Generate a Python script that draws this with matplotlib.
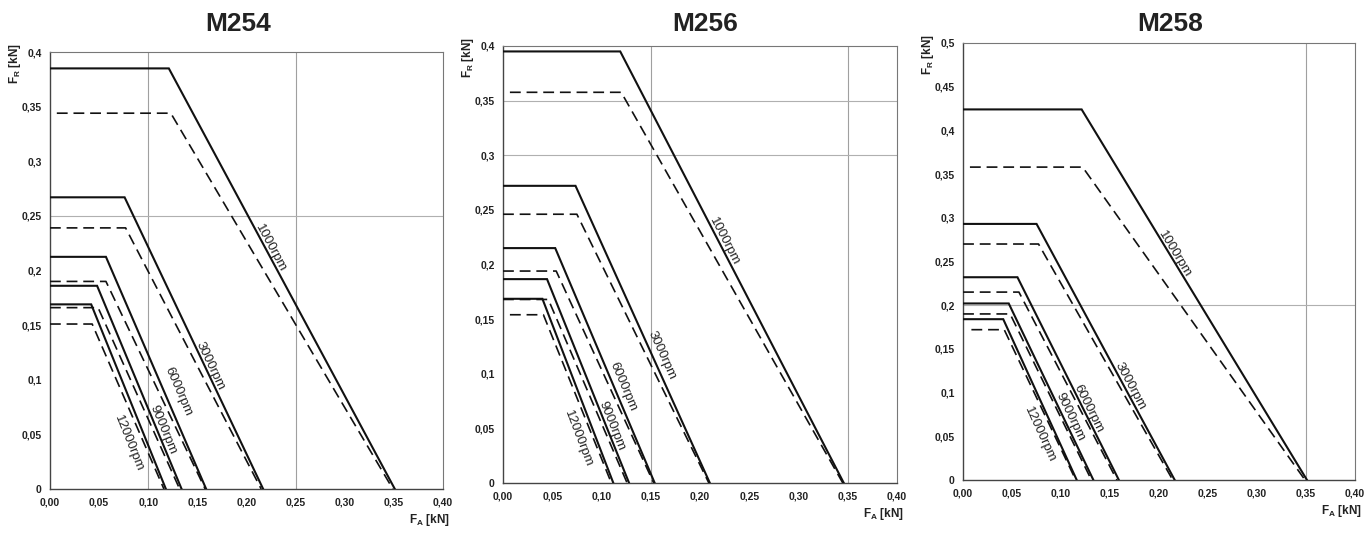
import numpy as np
import matplotlib
matplotlib.use("Agg")
import matplotlib.pyplot as plt

plt.rcParams['font.family'] = ['Liberation Sans', 'DejaVu Sans']

# ─────────────────────────────────────────
#  Data (kN)
#  curve = (0, FR) -> (knee, FR) -> (end, 0)
# ─────────────────────────────────────────
speeds = ['1000rpm', '3000rpm', '6000rpm', '9000rpm', '12000rpm']

# M254
m254_solid_fr    = [0.385, 0.267, 0.2125, 0.186, 0.169]
m254_solid_knee  = [0.121, 0.076, 0.057, 0.048, 0.042]
m254_solid_end   = [0.351, 0.217, 0.159, 0.134, 0.118]
m254_dash_start  = [0.007, 0.0, 0.0, 0.0, 0.0]
m254_dash_fr     = [0.344, 0.239, 0.190, 0.166, 0.151]
m254_dash_knee   = [0.123, 0.077, 0.057, 0.049, 0.043]
m254_dash_end    = [0.349, 0.215, 0.158, 0.132, 0.116]
m254_label_x     = [0.225, 0.163, 0.1305, 0.115, 0.080]
m254_label_y     = [0.220, 0.113, 0.089, 0.054, 0.042]

# M256
m256_solid_fr    = [0.395, 0.272, 0.215, 0.1866, 0.1686]
m256_solid_knee  = [0.119, 0.0736, 0.053, 0.0447, 0.040]
m256_solid_end   = [0.346, 0.210, 0.154, 0.128, 0.112]
m256_dash_start  = [0.007, 0.0, 0.0, 0.0, 0.007]
m256_dash_fr     = [0.3576, 0.246, 0.194, 0.168, 0.154]
m256_dash_knee   = [0.120, 0.075, 0.054, 0.046, 0.041]
m256_dash_end    = [0.345, 0.209, 0.153, 0.126, 0.110]
m256_label_x     = [0.225, 0.161, 0.122, 0.110, 0.076]
m256_label_y     = [0.221, 0.117, 0.088, 0.052, 0.041]

# M258
m258_solid_fr    = [0.424, 0.293, 0.232, 0.202, 0.184]
m258_solid_knee  = [0.121, 0.075, 0.0555, 0.0466, 0.041]
m258_solid_end   = [0.351, 0.216, 0.159, 0.133, 0.116]
m258_dash_start  = [0.007, 0.0, 0.0, 0.0, 0.0085]
m258_dash_fr     = [0.358, 0.270, 0.215, 0.190, 0.172]
m258_dash_knee   = [0.122, 0.077, 0.057, 0.048, 0.042]
m258_dash_end    = [0.349, 0.214, 0.157, 0.131, 0.115]
m258_label_x     = [0.216, 0.170, 0.128, 0.109, 0.078]
m258_label_y     = [0.258, 0.107, 0.082, 0.0725, 0.0515]

x_ticks = [0.00, 0.05, 0.10, 0.15, 0.20, 0.25, 0.30, 0.35, 0.40]
y_ticks_04 = [0, 0.05, 0.1, 0.15, 0.2, 0.25, 0.3, 0.35, 0.4]
y_ticks_05 = [0, 0.05, 0.1, 0.15, 0.2, 0.25, 0.3, 0.35, 0.4, 0.45, 0.5]

panels = [
    dict(title='M254', ymax=0.4, yticks=y_ticks_04,
         vgrid=[0.10, 0.25], hgrid=[0.25],
         sfr=m254_solid_fr, sk=m254_solid_knee, se=m254_solid_end,
         ds=m254_dash_start, dfr=m254_dash_fr, dk=m254_dash_knee, de=m254_dash_end,
         lx=m254_label_x, ly=m254_label_y,
         pos=[0.0365, 0.0843, 0.2873, 0.8183], title_x=0.174),
    dict(title='M256', ymax=0.4, yticks=y_ticks_04,
         vgrid=[0.15, 0.35], hgrid=[0.35, 0.30],
         sfr=m256_solid_fr, sk=m256_solid_knee, se=m256_solid_end,
         ds=m256_dash_start, dfr=m256_dash_fr, dk=m256_dash_knee, de=m256_dash_end,
         lx=m256_label_x, ly=m256_label_y,
         pos=[0.3677, 0.0955, 0.2880, 0.8184], title_x=0.5154),
    dict(title='M258', ymax=0.5, yticks=y_ticks_05,
         vgrid=[0.35], hgrid=[0.20],
         sfr=m258_solid_fr, sk=m258_solid_knee, se=m258_solid_end,
         ds=m258_dash_start, dfr=m258_dash_fr, dk=m258_dash_knee, de=m258_dash_end,
         lx=m258_label_x, ly=m258_label_y,
         pos=[0.7040, 0.1011, 0.2865, 0.8184], title_x=0.8553),
]


def fmt_y(v):
    s = f'{v:.2f}'.rstrip('0').rstrip('.')
    return s.replace('.', ',')


fig = plt.figure(figsize=(13.68, 5.34), dpi=100, facecolor='white')

for p in panels:
    ax = fig.add_axes(p['pos'])
    ax.set_xlim(0, 0.4)
    ax.set_ylim(0, p['ymax'])

    for g in p['vgrid']:
        ax.axvline(g, color='#a0a0a0', lw=0.8, zorder=1)
    for g in p['hgrid']:
        ax.axhline(g, color='#b0b0b0', lw=0.8, zorder=1)

    for i in range(len(speeds)):
        ax.plot([0, p['sk'][i], p['se'][i]], [p['sfr'][i], p['sfr'][i], 0],
                color='#111111', lw=1.5, zorder=3, solid_joinstyle='miter')
        ax.plot([p['ds'][i], p['dk'][i], p['de'][i]], [p['dfr'][i], p['dfr'][i], 0],
                color='#111111', lw=1.2, linestyle=(0, (6.5, 3.5)), zorder=3)
        ang = np.degrees(np.arctan2(-p['sfr'][i], p['se'][i] - p['sk'][i]))
        ax.text(p['lx'][i], p['ly'][i], speeds[i], fontsize=9.5, color='#222222',
                rotation=ang, rotation_mode='anchor', transform_rotates_text=True,
                ha='center', va='center', zorder=4)

    ax.set_xticks(x_ticks)
    ax.set_xticklabels([f'{v:.2f}'.replace('.', ',') for v in x_ticks],
                       fontsize=7.5, fontweight='bold', color='#222222')
    ax.set_yticks(p['yticks'])
    ax.set_yticklabels([fmt_y(v) for v in p['yticks']],
                       fontsize=7.5, fontweight='bold', color='#222222')
    ax.tick_params(length=0, pad=6)

    ax.spines['left'].set_color('#444444')
    ax.spines['bottom'].set_color('#444444')
    ax.spines['left'].set_linewidth(1.0)
    ax.spines['bottom'].set_linewidth(1.0)
    ax.spines['top'].set_color('#777777')
    ax.spines['right'].set_color('#777777')
    ax.spines['top'].set_linewidth(0.8)
    ax.spines['right'].set_linewidth(0.8)

    ax.text(-0.09, 1.02, r'F$_\mathregular{R}$ [kN]', transform=ax.transAxes,
            rotation=90, ha='center', va='top', fontsize=8.5, fontweight='bold',
            color='#222222')
    ax.text(0.965, -0.07, r'F$_\mathregular{A}$ [kN]', transform=ax.transAxes,
            ha='center', va='center', fontsize=8.5, fontweight='bold', color='#222222')

    fig.text(p['title_x'], 0.955, p['title'], ha='center', va='center',
             fontsize=19, fontweight='bold', color='#222222')

plt.savefig('out.png', dpi=100, facecolor='white')
